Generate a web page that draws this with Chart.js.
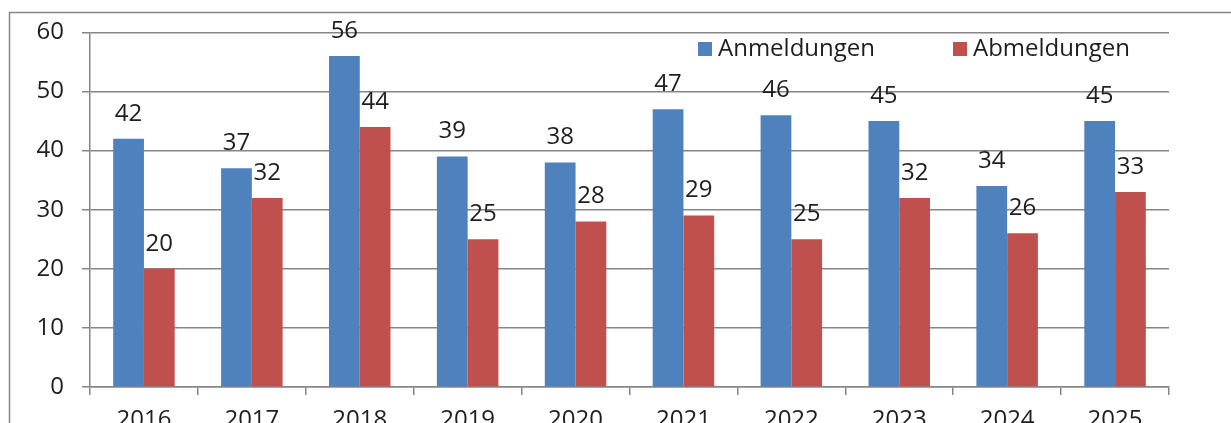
<!DOCTYPE html>
<html>
<head>
<meta charset="utf-8">
<script src="https://cdn.jsdelivr.net/npm/chart.js@4"></script>
<style>
  html, body { margin: 0; padding: 0; background: #fff; }
  #wrap { width: 1231px; height: 423px; position: relative; }
</style>
</head>
<body>
<div id="wrap"><canvas id="chart" width="1231" height="423"></canvas></div>
<script>
const years = ['2016', '2017', '2018', '2019', '2020', '2021', '2022', '2023', '2024', '2025'];
const anmeldungen = [42, 37, 56, 39, 38, 47, 46, 45, 34, 45];
const abmeldungen = [20, 32, 44, 25, 28, 29, 25, 32, 26, 33];
const yTicks = [0, 10, 20, 30, 40, 50, 60];

const FONT = '"Open Sans", "Noto Sans", sans-serif';
const GRID = '#868686';
const TEXT = '#1e1e1e';

// outer frame like the original picture
const framePlugin = {
    id: 'frame',
    beforeDraw(chart) {
        const ctx = chart.ctx;
        ctx.save();
        ctx.strokeStyle = GRID;
        ctx.lineWidth = 1.5;
        ctx.strokeRect(9.5, 12.5, 1400, 600);
        ctx.restore();
    }
};

// value labels above bars
const valueLabels = {
    id: 'valueLabels',
    afterDatasetsDraw(chart) {
        const ctx = chart.ctx;
        ctx.save();
        ctx.font = '24px ' + FONT;
        ctx.fillStyle = TEXT;
        ctx.textAlign = 'center';
        ctx.textBaseline = 'middle';
        chart.data.datasets.forEach((ds, i) => {
            chart.getDatasetMeta(i).data.forEach((bar, j) => {
                ctx.fillText(ds.data[j], bar.x, bar.y - 25);
            });
        });
        ctx.restore();
    }
};

// legend drawn inside the plot, top right
const innerLegend = {
    id: 'innerLegend',
    afterDraw(chart) {
        const ctx = chart.ctx;
        const xs = [698, 953];
        const y = 49;
        ctx.save();
        ctx.font = '24px ' + FONT;
        ctx.textBaseline = 'middle';
        chart.data.datasets.forEach((ds, i) => {
            ctx.fillStyle = ds.backgroundColor;
            ctx.fillRect(xs[i], y - 7, 14, 14);
            ctx.fillStyle = TEXT;
            ctx.fillText(ds.label, xs[i] + 20, y);
        });
        ctx.restore();
    }
};

new Chart(document.getElementById('chart'), {
    type: 'bar',
    data: {
        labels: years,
        datasets: [
            { label: 'Anmeldungen', data: anmeldungen, backgroundColor: '#4F81BD' },
            { label: 'Abmeldungen', data: abmeldungen, backgroundColor: '#C0504D' }
        ]
    },
    options: {
        responsive: false,
        animation: false,
        events: [],
        layout: { padding: { top: 31, right: 62, left: 0, bottom: 0 } },
        datasets: {
            bar: { categoryPercentage: 0.57, barPercentage: 1.0 }
        },
        plugins: {
            legend: { display: false },
            tooltip: { enabled: false }
        },
        scales: {
            x: {
                grid: {
                    offset: true,
                    drawOnChartArea: false,
                    color: GRID,
                    lineWidth: 1.5,
                    tickLength: 8
                },
                border: { color: GRID, width: 1.5 },
                ticks: {
                    color: TEXT,
                    font: { family: FONT, size: 24 },
                    padding: 11,
                    maxRotation: 0
                },
                afterFit(scale) { scale.height = 36; }
            },
            y: {
                min: 0,
                max: 60,
                afterBuildTicks(scale) {
                    scale.ticks = yTicks.map(v => ({ value: v }));
                },
                grid: {
                    color: GRID,
                    lineWidth: 1.5,
                    tickLength: 8
                },
                border: { color: GRID, width: 1.5 },
                ticks: {
                    color: TEXT,
                    font: { family: FONT, size: 24 },
                    padding: 18
                },
                afterFit(scale) { scale.width = 90; }
            }
        }
    },
    plugins: [framePlugin, valueLabels, innerLegend]
});
</script>
</body>
</html>
